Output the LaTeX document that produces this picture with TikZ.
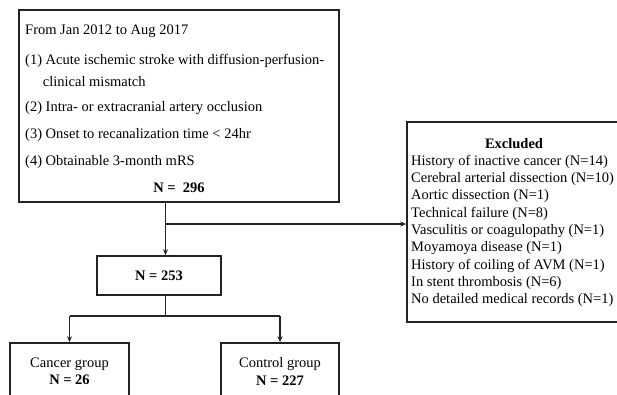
\documentclass[tikz,border=0pt]{standalone}
\usepackage{fontspec}
\setmainfont{Liberation Serif}
\usetikzlibrary{arrows.meta}
\definecolor{linec}{HTML}{222222}
\begin{document}
\begin{tikzpicture}[x=1pt,y=-1pt,
  box/.style={draw=linec, line width=1.6pt, inner sep=0pt},
  txt/.style={inner sep=0pt, font=\fontsize{14.5}{17.4}\selectfont, anchor=west},
  ctxt/.style={inner sep=0pt, font=\fontsize{14.5}{17.4}\selectfont, align=center},
  arr/.style={draw=linec, line width=1.3pt, -{Stealth[length=6pt,width=5pt]}},
  ln/.style={draw=linec, line width=1.3pt}]
\useasboundingbox (0,0) rectangle (617,394);
\clip (0,0) rectangle (617,394);
% boxes
\node[box, minimum width=320pt, minimum height=192pt] (top) at (179,106) {};
\node[box, minimum width=124pt, minimum height=39pt] (n253) at (159,275.5) {};
\node[box, minimum width=223pt, minimum height=200pt] (excl) at (518.5,222) {};
\node[box, minimum width=119pt, minimum height=67pt] (cancer) at (69.5,376.5) {};
\node[box, minimum width=118pt, minimum height=67pt] (control) at (280,376.5) {};
% top box text
\node[txt] (t1) at (25,31.7) {From Jan 2012 to Aug 2017};
\node[txt] (t2) at (25,61) {(1) Acute ischemic stroke with diffusion-perfusion-};
\node[txt] (t3) at (42.7,81.7) {clinical mismatch};
\node[txt] (t4) at (25,108) {(2) Intra- or extracranial artery occlusion};
\node[txt] (t5) at (25,135) {(3) Onset to recanalization time < 24hr};
\node[txt] (t6) at (25,162) {(4) Obtainable 3-month mRS};
\node[ctxt] (t7) at (179,187.7) {\textbf{N =\ \ 296}};
% N=253
\node[ctxt] (n253t) at (n253.center) {\textbf{N = 253}};
% excluded text
\node[ctxt] (ex0) at (514,144) {\textbf{Excluded}};
\node[txt] (ex1) at (411,162) {History of inactive cancer (N=14)};
\node[txt] (ex2) at (411,179.25) {Cerebral arterial dissection (N=10)};
\node[txt] (ex3) at (411,196.5) {Aortic dissection (N=1)};
\node[txt] (ex4) at (411,213.75) {Technical failure (N=8)};
\node[txt] (ex5) at (411,231) {Vasculitis or coagulopathy (N=1)};
\node[txt] (ex6) at (411,248.25) {Moyamoya disease (N=1)};
\node[txt] (ex7) at (411,265.5) {History of coiling of AVM (N=1)};
\node[txt] (ex8) at (411,282.75) {In stent thrombosis (N=6)};
\node[txt] (ex9) at (411,300) {No detailed medical records (N=1)};
% group text
\node[ctxt] (cat) at (69.5,371.5) {Cancer group\\\textbf{N = 26}};
\node[ctxt] (cot) at (280,371.5) {Control group\\\textbf{N = 227}};
% connectors
\coordinate (stem) at (165.5,0);
\coordinate (br) at (165.5,224);
\coordinate (lowbr) at (165.5,316);
\draw[arr] (top.south -| stem) -- (n253.north -| stem);
\draw[arr] (br) -- (br -| excl.west);
\draw[ln] (n253.south -| stem) -- (lowbr);
\draw[ln] (cancer.north |- lowbr) -- (control.north |- lowbr);
\draw[arr] (cancer.north |- lowbr) -- (cancer.north);
\draw[arr] (control.north |- lowbr) -- (control.north);
\end{tikzpicture}
\end{document}
